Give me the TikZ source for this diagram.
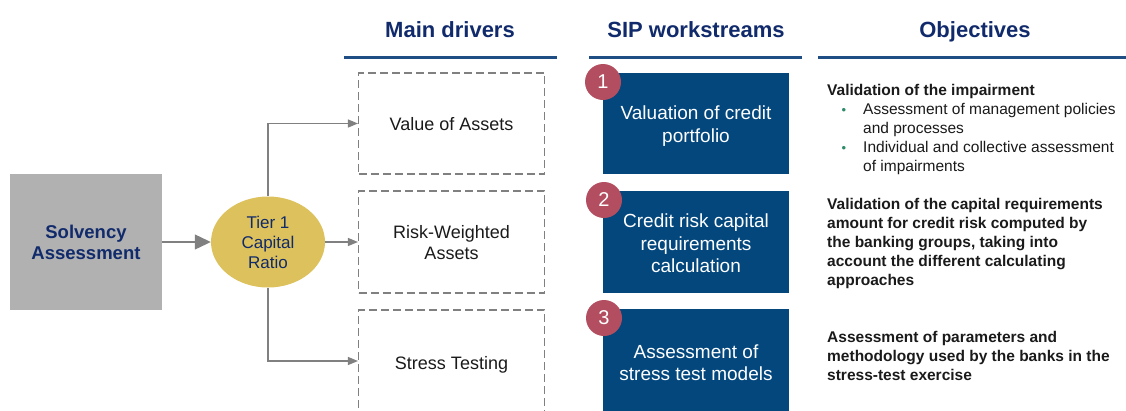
\documentclass[tikz,border=0pt]{standalone}
\usepackage{fontspec}
\setmainfont{Liberation Sans}
\usetikzlibrary{arrows.meta,shapes.geometric}

\definecolor{navy}{HTML}{102A6B}
\definecolor{rulecol}{HTML}{1F4E85}
\definecolor{streamblue}{HTML}{03477D}
\definecolor{solvgray}{HTML}{B1B1B1}
\definecolor{tiergold}{HTML}{DCC15C}
\definecolor{numrose}{HTML}{B24E5F}
\definecolor{linegray}{HTML}{808080}
\definecolor{bulgreen}{HTML}{2E8B67}
\definecolor{inkdark}{HTML}{1A1A1A}

\tikzset{
  header/.style={anchor=base, text=navy, font=\fontsize{22}{26}\selectfont\bfseries},
  colrule/.style={draw=rulecol, line width=3pt},
  driver/.style={draw=linegray, dash pattern=on 8pt off 4pt, line width=1.1pt,
    minimum width=186pt, inner sep=0pt, align=center, text=inkdark,
    font=\fontsize{18}{21}\selectfont},
  stream/.style={fill=streamblue, minimum width=186pt, inner sep=0pt,
    align=center, text=white, font=\fontsize{19}{22.5}\selectfont},
  numbadge/.style={circle, fill=numrose, minimum size=36pt, inner sep=0pt,
    text=white, font=\fontsize{20}{20}\selectfont},
  objective/.style={anchor=north west, inner sep=0pt, align=left, text=inkdark,
    font=\fontsize{15.5}{19}\selectfont},
  conn/.style={draw=linegray, line width=1.2pt, -{Triangle[length=10pt,width=8pt]}},
}

% invisible strut that lowers a centred text block inside its box
\newcommand{\lowerby}[1]{\rule{0pt}{#1}}
\newcommand{\greenbullet}{\hspace*{14.5pt}\makebox[21.5pt][l]{\textcolor{bulgreen}{\fontsize{13}{13}\selectfont •}}}

\begin{document}
\begin{tikzpicture}[x=1pt,y=-1pt]
  \useasboundingbox (0,0) rectangle (1126,410);
  \clip (0,0) rectangle (1126,410);

  % column headers and their rules
  \node[header] (hdrivers) at (450,37) {Main drivers};
  \node[header] (hstreams) at (696,37) {SIP workstreams};
  \node[header] (hobj) at (975,37) {Objectives};
  \draw[colrule] (344,57) -- (557,57);
  \draw[colrule] (589,57) -- (802,57);
  \draw[colrule] (818,57) -- (1126,57);

  % starting point and the ratio it depends on
  \node[fill=solvgray, minimum width=152pt, minimum height=136pt, inner sep=0pt,
        align=center, text=navy, font=\fontsize{18.5}{21}\selectfont\bfseries]
        (solv) at (86,242) {\lowerby{15pt}Solvency\\Assessment};
  \node[ellipse, fill=tiergold, minimum width=114pt, minimum height=91pt,
        inner sep=0pt, align=center, text=navy, font=\fontsize{17}{20}\selectfont]
        (tier) at (268,242) {Tier 1\\Capital\\Ratio};

  % main drivers
  \node[driver, minimum height=101pt] (va)  at (451.5,123.5) {\lowerby{15pt}Value of Assets};
  \node[driver, minimum height=102pt] (rwa) at (451.5,242) {\lowerby{15pt}Risk-Weighted\\Assets};
  \node[driver, minimum height=102pt] (st)  at (451.5,361) {\lowerby{20pt}Stress Testing};

  % connectors
  \draw[conn, -{Triangle[length=16pt,width=15pt]}] (solv.east) -- (tier.west);
  \draw[conn] (tier.north) |- (va.west);
  \draw[conn] (tier.east) -- (rwa.west);
  \draw[conn] (tier.south) |- (st.west);

  % SIP workstreams
  \node[stream, minimum height=101pt] (s1) at (696,123.5) {\lowerby{19pt}Valuation of credit\\portfolio};
  \node[stream, minimum height=102pt] (s2) at (696,242) {\lowerby{17pt}Credit risk capital\\requirements\\calculation};
  \node[stream, minimum height=102pt] (s3) at (696,360) {\lowerby{19pt}Assessment of\\stress test models};
  \node[numbadge] (n1) at (603,82) {1};
  \node[numbadge] (n2) at (604,200) {2};
  \node[numbadge] (n3) at (604,318) {3};

  % objectives
  \node[objective] (o1) at (827,84) {\textbf{Validation of the impairment}\\
    \greenbullet Assessment of management policies\\
    \hspace*{36pt}and processes\\
    \greenbullet Individual and collective assessment\\
    \hspace*{36pt}of impairments};
  \node[objective, font=\fontsize{15.5}{19}\selectfont\bfseries] (o2) at (827,198)
    {Validation of the capital requirements\\amount for credit risk computed by\\the banking groups, taking into\\account the different calculating\\approaches};
  \node[objective, font=\fontsize{15.5}{19}\selectfont\bfseries] (o3) at (827,331)
    {Assessment of parameters and\\methodology used by the banks in the\\stress-test exercise};
\end{tikzpicture}
\end{document}
